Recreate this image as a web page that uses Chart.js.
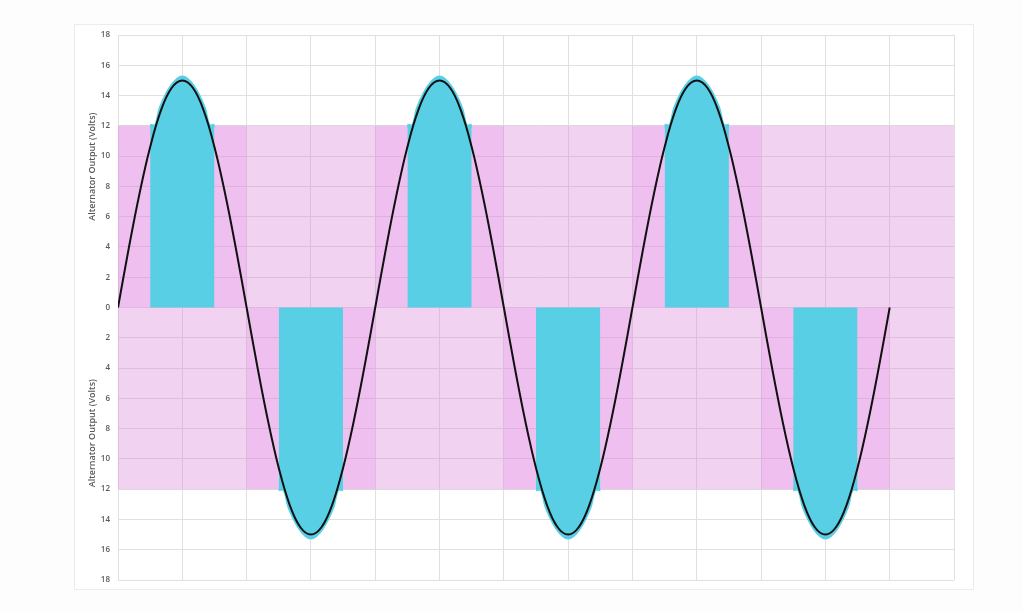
<!DOCTYPE html>
<html>
<head>
<meta charset="utf-8">
<script src="https://cdn.jsdelivr.net/npm/chart.js@4"></script>
<style>
  html, body { margin: 0; padding: 0; background: #fdfdfd; }
  #wrap { position: relative; width: 1023px; height: 611px; }
  #frame { position: absolute; left: 74px; top: 24px; width: 898px; height: 564px; border: 1px solid #ececec; background: #fff; }
  #chart { position: absolute; left: 0; top: 0; }
</style>
</head>
<body>
<div id="wrap">
  <div id="frame"></div>
  <canvas id="chart" width="1023" height="611"></canvas>
</div>
<script>
// alternator output, every 15 degrees (3 full cycles)
const stepDeg = 15;
const voltage = [
  0, 3.9, 7.5, 10.6, 13.0, 14.5, 15, 14.5, 13.0, 10.6, 7.5, 3.9,
  0, -3.9, -7.5, -10.6, -13.0, -14.5, -15, -14.5, -13.0, -10.6, -7.5, -3.9,
  0, 3.9, 7.5, 10.6, 13.0, 14.5, 15, 14.5, 13.0, 10.6, 7.5, 3.9,
  0, -3.9, -7.5, -10.6, -13.0, -14.5, -15, -14.5, -13.0, -10.6, -7.5, -3.9,
  0, 3.9, 7.5, 10.6, 13.0, 14.5, 15, 14.5, 13.0, 10.6, 7.5, 3.9,
  0, -3.9, -7.5, -10.6, -13.0, -14.5, -15, -14.5, -13.0, -10.6, -7.5, -3.9,
  0
];

// battery level band (pink) and the hand-shaded half cycles
const bandLevel = 12;
const axisEnd = 1170;
const upperShade = [[0, 180], [360, 540], [720, 900]];
const lowerShade = [[180, 360], [540, 720], [900, 1080]];

// cyan charging pulses around each peak
const cyanPeaks = [90, 270, 450, 630, 810, 990];
const cyanSigns = [1, -1, 1, -1, 1, -1];
const cyanOffsets = [-45, -37, -30, -15, 0, 15, 30, 37, 45];
const cyanHeights = [12, 12, 13.2, 14.6, 15.2, 14.6, 13.2, 12, 12];

const yTicks = [-18, -16, -14, -12, -10, -8, -6, -4, -2, 0, 2, 4, 6, 8, 10, 12, 14, 16, 18];
const axisTitle = 'Alternator Output (Volts)';

const lightPink = 'rgba(215,126,215,0.35)';
const darkPink = 'rgba(230,120,230,0.2)';
const cyan = '#58cfe4';

const datasets = [];

datasets.push({
  label: 'curve',
  data: voltage.map((v, i) => ({ x: i * stepDeg, y: v })),
  borderColor: '#111',
  borderWidth: 2,
  pointRadius: 0,
  tension: 0.4,
  fill: false,
  order: 0
});

cyanPeaks.forEach((p, k) => {
  datasets.push({
    label: 'pulse',
    data: cyanOffsets.map((o, i) => ({ x: p + o, y: cyanSigns[k] * cyanHeights[i] })),
    borderColor: cyan,
    borderWidth: 4,
    backgroundColor: cyan,
    pointRadius: 0,
    tension: 0.35,
    fill: 'origin',
    order: 1
  });
});

upperShade.concat(lowerShade).forEach((s, k) => {
  const lvl = k < upperShade.length ? bandLevel : -bandLevel;
  datasets.push({
    label: 'shade',
    data: [{ x: s[0], y: lvl }, { x: s[1], y: lvl }],
    borderWidth: 0,
    backgroundColor: darkPink,
    pointRadius: 0,
    fill: 'origin',
    order: 2
  });
});

[bandLevel, -bandLevel].forEach(lvl => {
  datasets.push({
    label: 'band',
    data: [{ x: 0, y: lvl }, { x: axisEnd, y: lvl }],
    borderWidth: 0,
    backgroundColor: lightPink,
    pointRadius: 0,
    fill: 'origin',
    order: 3
  });
});

// two rotated axis titles, one per half
const twoTitles = {
  id: 'twoTitles',
  afterDraw(chart) {
    const ctx = chart.ctx;
    const y = chart.scales.y;
    ctx.save();
    ctx.fillStyle = '#595959';
    ctx.font = '600 9px "Open Sans", sans-serif';
    ctx.textAlign = 'center';
    ctx.textBaseline = 'middle';
    [9.3, -8.3].forEach(v => {
      ctx.save();
      ctx.translate(92, y.getPixelForValue(v));
      ctx.rotate(-Math.PI / 2);
      ctx.fillText(axisTitle, 0, 0);
      ctx.restore();
    });
    ctx.restore();
  }
};

new Chart(document.getElementById('chart'), {
  type: 'line',
  data: { datasets: datasets },
  options: {
    responsive: false,
    animation: false,
    layout: { padding: { top: 35, bottom: 31, right: 69, left: 0 } },
    plugins: { legend: { display: false }, tooltip: { enabled: false } },
    scales: {
      x: {
        type: 'linear',
        min: 0,
        max: axisEnd,
        ticks: { display: false, stepSize: 90 },
        grid: { color: '#e0e0e0', drawTicks: false },
        border: { display: false }
      },
      y: {
        type: 'linear',
        min: -18,
        max: 18,
        afterFit(scale) { scale.width = 118; },
        afterBuildTicks(scale) { scale.ticks = yTicks.map(v => ({ value: v })); },
        ticks: {
          padding: 8,
          color: '#595959',
          font: { family: '"Open Sans", sans-serif', size: 8, weight: '600' },
          callback: v => Math.abs(v)
        },
        grid: { color: '#e0e0e0', drawTicks: false },
        border: { color: '#e0e0e0' }
      }
    }
  },
  plugins: [twoTitles]
});
</script>
</body>
</html>
